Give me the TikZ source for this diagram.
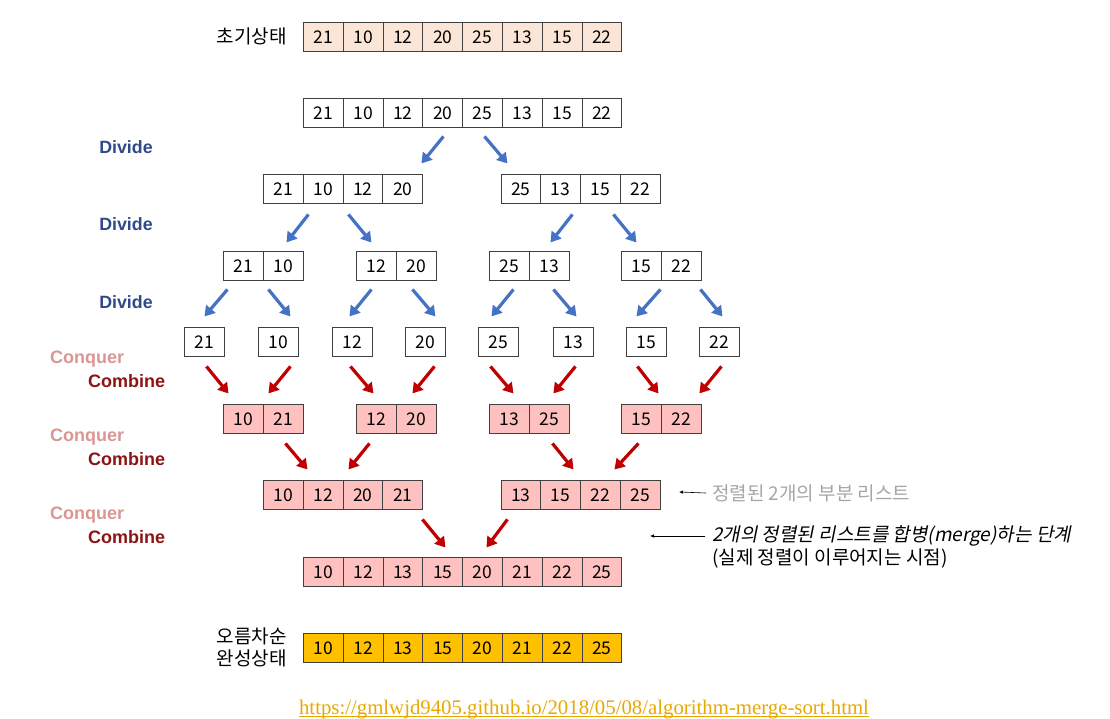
\documentclass[tikz,border=0pt]{standalone}
\usepackage{fontspec}
\setmainfont{Noto Sans CJK KR}
\newfontfamily\lsans{Liberation Sans}
\newfontfamily\krslant{Noto Sans CJK KR}[FakeSlant=0.2]
\newfontfamily\lserif{Liberation Serif}
\usetikzlibrary{calc,arrows.meta}
\definecolor{peach}{HTML}{FBE5D6}
\definecolor{pinkc}{HTML}{FFC0C0}
\definecolor{orangec}{HTML}{FFC000}
\definecolor{bordc}{HTML}{404040}
\definecolor{bluea}{HTML}{4472C4}
\definecolor{reda}{HTML}{C00000}
\definecolor{divc}{RGB}{47,74,135}
\definecolor{conqc}{RGB}{217,150,148}
\definecolor{combc}{RGB}{140,20,20}
\definecolor{grayt}{HTML}{A6A6A6}
\definecolor{urlc}{HTML}{E8A800}
\newcommand\mkrow[5]{%
  \foreach \v [count=\i] in {#5} {
    \node[cell,#4,anchor=north west] (#1-\i) at ({#2+(\i-1)*39.8},#3) {\v};
  }}
\newcommand\arr[5]{\draw[#1] ($(#2)+(#3)$) -- ($(#4)+(#5)$);}
\begin{document}
\begin{tikzpicture}[x=1pt,y=-1pt,
  cell/.style={draw=bordc,line width=0.9pt,minimum width=39.8pt,minimum height=29pt,inner sep=0pt,
    font=\fontsize{17.5}{17.5}\selectfont},
  white/.style={fill=white},
  peachf/.style={fill=peach},
  pinkf/.style={fill=pinkc},
  orangef/.style={fill=orangec},
  barr/.style={draw=bluea,line width=3.2pt,-{Triangle[length=10pt,width=12pt]}},
  rarr/.style={draw=reda,line width=3.2pt,-{Triangle[length=10pt,width=12pt]}},
  divlab/.style={font=\lsans\bfseries\fontsize{17.8}{18}\selectfont,text=divc,inner sep=0pt},
  conqlab/.style={font=\lsans\bfseries\fontsize{18}{18}\selectfont,text=conqc,inner sep=0pt,anchor=west},
  comblab/.style={font=\lsans\bfseries\fontsize{18}{18}\selectfont,text=combc,inner sep=0pt,anchor=west},
  krlab/.style={font=\fontsize{19}{22}\selectfont,inner sep=0pt,anchor=east,align=right},
  note/.style={font=\fontsize{19}{22.5}\selectfont,inner sep=0pt,anchor=west,align=left}]
\useasboundingbox (0,0) rectangle (1110,719);
% rows
\mkrow{r0}{303}{22}{peachf}{21,10,12,20,25,13,15,22}
\mkrow{r1}{303}{98}{white}{21,10,12,20,25,13,15,22}
\mkrow{r2a}{263}{174}{white}{21,10,12,20}
\mkrow{r2b}{500.5}{174}{white}{25,13,15,22}
\mkrow{r3a}{223}{251}{white}{21,10}
\mkrow{r3b}{356}{251}{white}{12,20}
\mkrow{r3c}{489}{251}{white}{25,13}
\mkrow{r3d}{621}{251}{white}{15,22}
\node[cell,white,anchor=north west] (r4-1) at (184,327) {21};
\node[cell,white,anchor=north west] (r4-2) at (258,327) {10};
\node[cell,white,anchor=north west] (r4-3) at (332,327) {12};
\node[cell,white,anchor=north west] (r4-4) at (405,327) {20};
\node[cell,white,anchor=north west] (r4-5) at (478,327) {25};
\node[cell,white,anchor=north west] (r4-6) at (553,327) {13};
\node[cell,white,anchor=north west] (r4-7) at (626,327) {15};
\node[cell,white,anchor=north west] (r4-8) at (699,327) {22};
\mkrow{r5a}{223}{404}{pinkf}{10,21}
\mkrow{r5b}{356}{404}{pinkf}{12,20}
\mkrow{r5c}{489}{404}{pinkf}{13,25}
\mkrow{r5d}{621}{404}{pinkf}{15,22}
\mkrow{r6a}{263}{480}{pinkf}{10,12,20,21}
\mkrow{r6b}{500.5}{480}{pinkf}{13,15,22,25}
\mkrow{r7}{303}{557}{pinkf}{10,12,13,15,20,21,22,25}
\mkrow{r8}{303}{633}{orangef}{10,12,13,15,20,21,22,25}
% row labels
\node[krlab] (lab0) at (287,36) {초기상태};
\node[krlab] (lab8) at (287,647) {오름차순\\완성상태};
% stage labels
\node[divlab] (d1) at (126,147) {Divide};
\node[divlab] (d2) at (126,224) {Divide};
\node[divlab] (d3) at (126,302) {Divide};
\node[conqlab] (q1) at (50,359) {Conquer};
\node[comblab] (c1) at (88,381) {Combine};
\node[conqlab] (q2) at (50,437) {Conquer};
\node[comblab] (c2) at (88,459) {Combine};
\node[conqlab] (q3) at (50,515) {Conquer};
\node[comblab] (c3) at (88,537) {Combine};
% blue arrows
\arr{barr}{r1-4}{0.7,23.5}{r2a-4}{18.7,-25.5}
\arr{barr}{r1-5}{1.9,23.5}{r2b-1}{-13.4,-25.5}
\arr{barr}{r2a-1}{25.1,25.5}{r3a-2}{3.3,-23.5}
\arr{barr}{r2a-2}{25.3,25.5}{r3b-1}{-4.9,-23.5}
\arr{barr}{r2b-2}{11.8,25.5}{r3c-2}{1.3,-23.5}
\arr{barr}{r2b-3}{13,25.5}{r3d-1}{-4.9,-23.5}
\arr{barr}{r3a-1}{-15.9,23.5}{r4-1}{0.1,-25.5}
\arr{barr}{r3a-2}{-14.7,23.5}{r4-2}{12.1,-25.5}
\arr{barr}{r3b-1}{-4.9,23.5}{r4-3}{-2.9,-25.5}
\arr{barr}{r3b-2}{-3.7,23.5}{r4-4}{10.1,-25.5}
\arr{barr}{r3c-1}{4.1,23.5}{r4-5}{-6.9,-25.5}
\arr{barr}{r3c-2}{4.3,23.5}{r4-6}{3.1,-25.5}
\arr{barr}{r3d-2}{-20.7,23.5}{r4-7}{-9.9,-25.5}
\arr{barr}{r3d-2}{19.3,23.5}{r4-8}{3.1,-25.5}
% red arrows
\arr{rarr}{r4-1}{2.1,24.5}{r5a-1}{-14.9,-25.5}
\arr{rarr}{r4-2}{12.1,24.5}{r5a-2}{-14.7,-25.5}
\arr{rarr}{r4-3}{-1.9,24.5}{r5b-1}{-2.9,-25.5}
\arr{rarr}{r4-4}{9.1,24.5}{r5b-2}{-3.7,-25.5}
\arr{rarr}{r4-5}{-7.9,24.5}{r5c-1}{4.1,-25.5}
\arr{rarr}{r4-6}{2.1,24.5}{r5c-2}{4.3,-25.5}
\arr{rarr}{r4-7}{-8.9,24.5}{r5d-1}{17.1,-25.5}
\arr{rarr}{r4-8}{2.1,24.5}{r5d-2}{18.3,-25.5}
\arr{rarr}{r5a-2}{2.3,24.5}{r6a-1}{24.1,-25.5}
\arr{rarr}{r5b-1}{-6.9,24.5}{r6a-3}{-14.5,-25.5}
\arr{rarr}{r5c-2}{3.3,24.5}{r6b-2}{12.8,-25.5}
\arr{rarr}{r5d-1}{-2.9,24.5}{r6b-3}{14,-25.5}
\arr{rarr}{r6a-4}{19.7,24.5}{r7-4}{2.7,-24.5}
\arr{rarr}{r6b-1}{-13.4,24.5}{r7-5}{3.9,-24.5}
% annotations
\node[note,text=grayt] (n1) at (712,493) {정렬된 2개의 부분 리스트};
\coordinate (n1h) at (679,492);
\draw[line width=0.6pt,-{Latex[length=4pt,width=3.5pt]}] ([xshift=-6pt]n1.west) -- (n1h);
\node[note] (n2) at (712,547) {{\krslant 2개의 정렬된 리스트를 합병(merge)하는 단계}\\(실제 정렬이 이루어지는 시점)};
\coordinate (n2h) at (650,536);
\draw[line width=0.6pt,-{Latex[length=4pt,width=3.5pt]}] (705,536) -- (n2h);
% url
\node[font=\lserif\fontsize{20.8}{20.8}\selectfont,text=urlc,inner sep=0pt,anchor=base] (url) at (584,714)
  {https://gmlwjd9405.github.io/2018/05/08/algorithm-merge-sort.html};
\draw[urlc,line width=0.9pt] ([yshift=-2.5pt]url.base west) -- ([yshift=-2.5pt]url.base east);
\end{tikzpicture}
\end{document}
